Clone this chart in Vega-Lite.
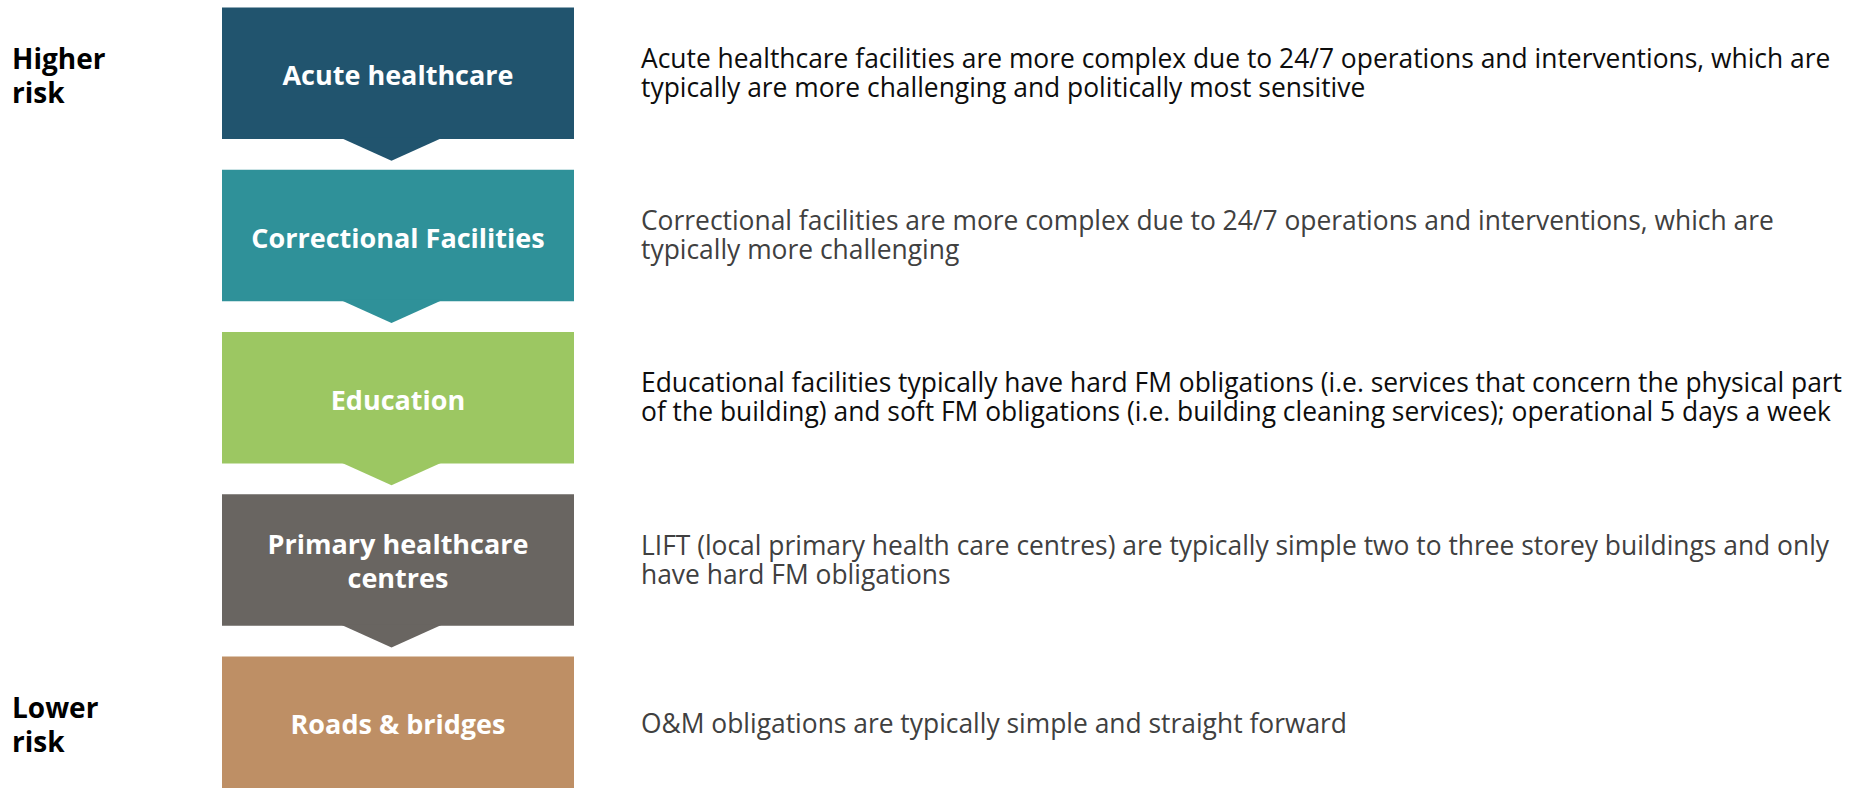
{
  "$schema": "https://vega.github.io/schema/vega-lite/v6.json",
  "width": 1869,
  "height": 788,
  "autosize": {"type": "fit", "contains": "padding"},
  "padding": 0,
  "background": "white",
  "config": {"view": {"stroke": null}, "font": "Open Sans"},
  "data": {"values": [
    {"tier": "Acute healthcare", "label": "Acute healthcare", "desc": "Acute healthcare facilities are more complex due to 24/7 operations and interventions, which are\ntypically are more challenging and politically most sensitive", "tone": "dark", "risk": "Higher\nrisk"},
    {"tier": "Correctional Facilities", "label": "Correctional Facilities", "desc": "Correctional facilities are more complex due to 24/7 operations and interventions, which are\ntypically more challenging", "tone": "muted", "risk": ""},
    {"tier": "Education", "label": "Education", "desc": "Educational facilities typically have hard FM obligations (i.e. services that concern the physical part\nof the building) and soft FM obligations (i.e. building cleaning services); operational 5 days a week", "tone": "dark", "risk": ""},
    {"tier": "Primary healthcare centres", "label": "Primary healthcare\ncentres", "desc": "LIFT (local primary health care centres) are typically simple two to three storey buildings and only\nhave hard FM obligations", "tone": "muted", "risk": ""},
    {"tier": "Roads & bridges", "label": "Roads & bridges", "desc": "O&M obligations are typically simple and straight forward", "tone": "muted", "risk": "Lower\nrisk"}
  ]},
  "encoding": {
    "y": {"field": "tier", "type": "nominal", "axis": null,
      "scale": {"domain": ["Acute healthcare", "Correctional Facilities", "Education", "Primary healthcare centres", "Roads & bridges"], "paddingInner": 0.19, "paddingOuter": 0.0234, "align": 1}}
  },
  "layer": [
    {
      "mark": {"type": "bar"},
      "encoding": {
        "x": {"datum": 222, "type": "quantitative", "scale": {"domain": [0, 1869], "nice": false, "zero": false}, "axis": null},
        "x2": {"datum": 574},
        "color": {"field": "tier", "type": "nominal", "legend": null,
          "scale": {"domain": ["Acute healthcare", "Correctional Facilities", "Education", "Primary healthcare centres", "Roads & bridges"], "range": ["#21546E", "#2F9199", "#9CC762", "#696561", "#BE8F65"]}}
      }
    },
    {
      "transform": [{"filter": "datum.tier !== 'Roads & bridges'"}],
      "mark": {"type": "point", "filled": true, "opacity": 1, "strokeWidth": 0, "size": 10609, "shape": "M-1,-0.03L1,-0.03L0,0.42Z"},
      "encoding": {
        "x": {"datum": 391.5, "type": "quantitative"},
        "y": {"field": "tier", "type": "nominal", "bandPosition": 1},
        "color": {"field": "tier", "type": "nominal", "legend": null,
          "scale": {"domain": ["Acute healthcare", "Correctional Facilities", "Education", "Primary healthcare centres", "Roads & bridges"], "range": ["#21546E", "#2F9199", "#9CC762", "#696561", "#BE8F65"]}}
      }
    },
    {
      "transform": [{"filter": "indexof(datum.label, '\\n') < 0"}],
      "mark": {"type": "text", "font": "Open Sans", "fontWeight": "bold", "fontSize": 27, "color": "white", "align": "center", "baseline": "middle", "lineBreak": "\n", "lineHeight": 34, "dy": 4},
      "encoding": {
        "x": {"datum": 398, "type": "quantitative"},
        "text": {"field": "label"}
      }
    },
    {
      "transform": [{"filter": "indexof(datum.label, '\\n') >= 0"}],
      "mark": {"type": "text", "font": "Open Sans", "fontWeight": "bold", "fontSize": 27, "color": "white", "align": "center", "baseline": "middle", "lineBreak": "\n", "lineHeight": 34, "dy": -14},
      "encoding": {
        "x": {"datum": 398, "type": "quantitative"},
        "text": {"field": "label"}
      }
    },
    {
      "transform": [{"filter": "indexof(datum.desc, '\\n') >= 0"}],
      "mark": {"type": "text", "font": "Open Sans", "fontSize": 26.4, "align": "left", "baseline": "middle", "lineBreak": "\n", "lineHeight": 29, "dy": -13.5},
      "encoding": {
        "x": {"datum": 641, "type": "quantitative"},
        "text": {"field": "desc"},
        "color": {"field": "tone", "type": "nominal", "legend": null, "scale": {"domain": ["dark", "muted"], "range": ["#0D0D0D", "#404040"]}}
      }
    },
    {
      "transform": [{"filter": "indexof(datum.desc, '\\n') < 0"}],
      "mark": {"type": "text", "font": "Open Sans", "fontSize": 26.4, "align": "left", "baseline": "middle", "lineBreak": "\n", "lineHeight": 29, "dy": 3},
      "encoding": {
        "x": {"datum": 641, "type": "quantitative"},
        "text": {"field": "desc"},
        "color": {"field": "tone", "type": "nominal", "legend": null, "scale": {"domain": ["dark", "muted"], "range": ["#0D0D0D", "#404040"]}}
      }
    },
    {
      "transform": [{"filter": "datum.risk !== ''"}],
      "mark": {"type": "text", "font": "Open Sans", "fontWeight": "bold", "fontSize": 28, "color": "black", "align": "left", "baseline": "middle", "lineBreak": "\n", "lineHeight": 34, "dy": -12},
      "encoding": {
        "x": {"datum": 12, "type": "quantitative"},
        "text": {"field": "risk"}
      }
    }
  ],
  "resolve": {"scale": {"color": "independent"}}
}
